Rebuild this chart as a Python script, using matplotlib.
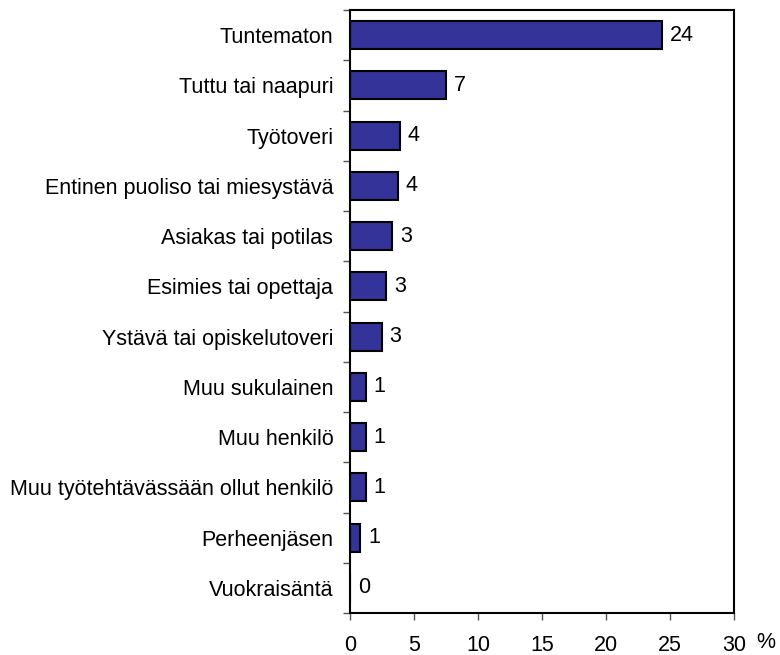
import matplotlib.pyplot as plt
import numpy as np

plt.rcParams['font.family'] = ['Liberation Sans', 'DejaVu Sans']

categories = ['Tuntematon', 'Tuttu tai naapuri', 'Työtoveri',
              'Entinen puoliso tai miesystävä', 'Asiakas tai potilas',
              'Esimies tai opettaja', 'Ystävä tai opiskelutoveri',
              'Muu sukulainen', 'Muu henkilö',
              'Muu työtehtävässään ollut henkilö', 'Perheenjäsen', 'Vuokraisäntä']
values = [24.4, 7.5, 3.9, 3.75, 3.3, 2.85, 2.5, 1.25, 1.25, 1.25, 0.8, 0.0]
labels = [24, 7, 4, 4, 3, 3, 3, 1, 1, 1, 1, 0]
xticks = [0, 5, 10, 15, 20, 25, 30]

FS = 15.5

fig = plt.figure(figsize=(7.8, 6.55), dpi=100)
ax = fig.add_axes([350 / 780, 42 / 655, 384 / 780, 603 / 655])

y = np.arange(len(categories))
ax.barh(y, values, height=0.56, color='#333399', edgecolor='black', linewidth=1.5)
for yi, v, lab in zip(y, values, labels):
    ax.text(v + 0.6, yi, str(lab), va='center', ha='left', fontsize=FS)

ax.set_ylim(len(categories) - 0.5, -0.5)
ax.set_xlim(0, 30)
ax.set_xticks(xticks)
ax.set_xticklabels([str(t) for t in xticks], fontsize=FS)
ax.set_yticks(y)
ax.set_yticklabels(categories, fontsize=FS)
ax.tick_params(axis='y', which='major', length=0, pad=12)
ax.set_yticks(np.arange(len(categories) + 1) - 0.5, minor=True)
ax.tick_params(axis='y', which='minor', length=5, width=1, color='#555555')
ax.tick_params(axis='x', length=5, width=1, color='#555555', pad=11)

for s in ax.spines.values():
    s.set_linewidth(1.5)

fig.text(766 / 780, 1 - 643 / 655, '%', fontsize=FS, ha='center', va='center')

fig.savefig('out.png', dpi=100)
